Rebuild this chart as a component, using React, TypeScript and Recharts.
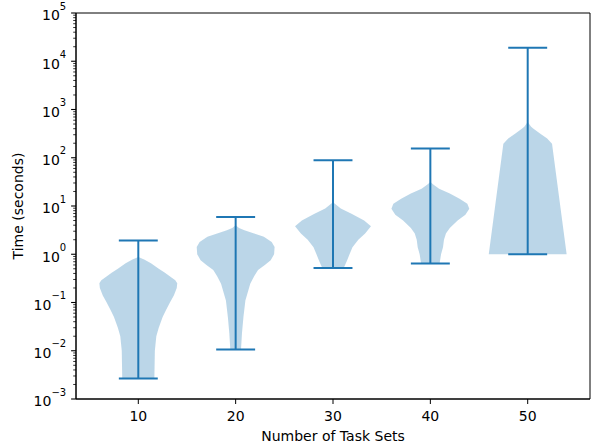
import { ScatterChart, Scatter, XAxis, YAxis, ReferenceLine, ReferenceArea, Label } from 'recharts';

const positions = [10, 20, 30, 40, 50];
const mins = [0.00265, 0.0106, 0.52, 0.64, 1.0];
const maxs = [1.92, 5.9, 88.5, 155, 19100];

// violin outlines: time levels (bottom -> top) and half widths in x units
const times10 = [0.00265, 0.01, 0.02, 0.03, 0.05, 0.07, 0.1, 0.14, 0.2, 0.25, 0.29, 0.34, 0.42, 0.5, 0.65, 0.78, 0.88];
const widths10 = [1.65, 1.7, 1.85, 2.1, 2.5, 2.85, 3.25, 3.65, 3.95, 4.0, 3.8, 3.3, 2.7, 2.1, 1.3, 0.6, 0];
const times20 = [0.0106, 0.023, 0.05, 0.11, 0.245, 0.35, 0.47, 0.6, 0.75, 1.0, 1.41, 1.8, 2.3, 2.7, 3.16, 3.5, 4.0];
const widths20 = [0.55, 0.65, 0.8, 1.0, 1.5, 1.9, 2.3, 3.0, 3.6, 3.95, 4.0, 3.7, 2.9, 1.9, 0.9, 0.35, 0];
const times30 = [0.52, 0.71, 1.0, 1.4, 2.0, 2.7, 3.8, 5.0, 6.9, 8.9, 12];
const widths30 = [1.1, 1.4, 1.7, 2.0, 2.6, 3.3, 3.9, 3.2, 1.9, 0.8, 0];
const times40 = [0.64, 1.0, 1.4, 2.0, 2.7, 3.5, 5.0, 6.6, 8.8, 11.2, 14.1, 18.2, 22.9, 28, 31.5];
const widths40 = [0.95, 1.1, 1.3, 1.4, 1.6, 2.0, 2.8, 3.6, 4.0, 3.8, 3.0, 2.0, 0.9, 0.3, 0];
const times50 = [1.0, 196, 251, 316, 398, 440, 551];
const widths50 = [4.0, 2.5, 2.0, 1.3, 0.6, 0.35, 0];

const yMajor = [0.001, 0.01, 0.1, 1, 10, 100, 1000, 10000, 100000];

const allTimes = [times10, times20, times30, times40, times50];
const allWidths = [widths10, widths20, widths30, widths40, widths50];

const violins = positions.map((c, i) => {
  const t = allTimes[i];
  const w = allWidths[i];
  const left = t.map((y, j) => ({ x: c - w[j], y }));
  const right = t.map((y, j) => ({ x: c + w[j], y })).reverse();
  return [...left, ...right];
});

const yTicks: number[] = [];
yMajor.forEach((m, i) => {
  yTicks.push(m);
  if (i < yMajor.length - 1) for (let k = 2; k <= 9; k++) yTicks.push(+(m * k).toPrecision(3));
});

const BLUE = '#1f77b4';
const FONT = '"DejaVu Sans", sans-serif';

const renderViolin = (p: any) => {
  const pts = p.points || [];
  if (!pts.length) return <g />;
  const d = pts.map((pt: any, i: number) => `${i ? 'L' : 'M'}${pt.x},${pt.y}`).join('') + 'Z';
  return <path d={d} fill={BLUE} fillOpacity={0.3} stroke="none" />;
};

const noShape = () => <g />;

const YTick = (props: any) => {
  const { x, y, payload } = props;
  const lg = Math.log10(payload.value);
  const e = Math.round(lg);
  const major = Math.abs(lg - e) < 1e-6;
  const len = major ? 4.9 : 2.8;
  const exp = e < 0 ? '\u2212' + Math.abs(e) : String(e);
  return (
    <g>
      <line x1={x - len} x2={x} y1={y} y2={y} stroke="#000" strokeWidth={major ? 1.1 : 0.8} />
      {major && (
        <text x={x - 9.8} y={y} textAnchor="end" fontFamily={FONT} fill="#000">
          <tspan fontSize={14} dy={7.3}>10</tspan>
          <tspan fontSize={10} dy={-10.8}>{exp}</tspan>
        </text>
      )}
    </g>
  );
};

const YLabel = (props: any) => {
  const vb = props.viewBox || { x: 0, y: 13, width: 76, height: 386 };
  const cx = vb.x + 18;
  const cy = vb.y + vb.height / 2;
  return (
    <text x={cx} y={cy} transform={`rotate(-90, ${cx}, ${cy})`} textAnchor="middle" dominantBaseline="central" fontFamily={FONT} fontSize={14} fill="#000">
      Time (seconds)
    </text>
  );
};

const App = () => {
  return (
    <div style={{ width: 592, height: 444, background: '#fff' }}>
      <style>{'body{margin:0}'}</style>
      <ScatterChart width={592} height={444} margin={{ top: 13, right: 2, left: 0, bottom: 0 }} style={{ fontFamily: FONT }}>
        <XAxis
          type="number"
          dataKey="x"
          domain={[3.6, 56.4]}
          ticks={positions}
          allowDataOverflow
          height={45}
          tickSize={5}
          tickMargin={7}
          stroke="#000"
          tick={{ fill: '#000', fontSize: 14, fontFamily: FONT }}
        >
          <Label value="Number of Task Sets" position="insideBottom" offset={3} fill="#000" fontSize={14} fontFamily={FONT} />
        </XAxis>
        <YAxis
          type="number"
          dataKey="y"
          scale="log"
          domain={[0.001, 100000]}
          allowDataOverflow
          ticks={yTicks}
          interval={0}
          width={76}
          tickSize={0}
          tickMargin={0}
          tickLine={false}
          stroke="#000"
          tick={<YTick />}
          label={<YLabel />}
        />
        {violins.map((poly, i) => (
          <Scatter key={'v' + i} data={poly} line={renderViolin} lineType="joint" shape={noShape} isAnimationActive={false} />
        ))}
        {positions.map((c, i) => (
          <ReferenceLine key={'s' + i} segment={[{ x: c, y: mins[i] }, { x: c, y: maxs[i] }]} stroke={BLUE} strokeWidth={2} />
        ))}
        {positions.map((c, i) => (
          <ReferenceLine key={'lo' + i} segment={[{ x: c - 2, y: mins[i] }, { x: c + 2, y: mins[i] }]} stroke={BLUE} strokeWidth={2} />
        ))}
        {positions.map((c, i) => (
          <ReferenceLine key={'hi' + i} segment={[{ x: c - 2, y: maxs[i] }, { x: c + 2, y: maxs[i] }]} stroke={BLUE} strokeWidth={2} />
        ))}
        <ReferenceArea x1={3.6} x2={56.4} y1={0.001} y2={100000} fill="none" stroke="#000" strokeWidth={1} />
      </ScatterChart>
    </div>
  );
};

export default App;
